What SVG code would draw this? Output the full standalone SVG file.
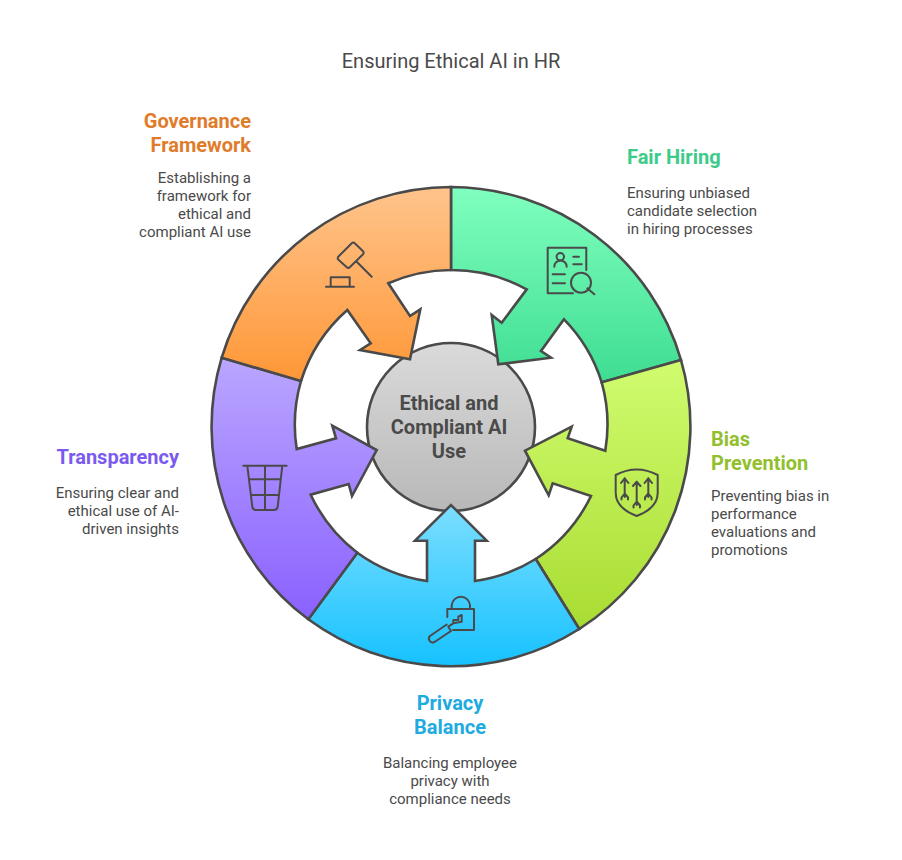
<svg xmlns="http://www.w3.org/2000/svg" width="902" height="860" viewBox="0 0 902 860">
<style>
text{font-family:Roboto,"Liberation Sans",sans-serif;fill:#4a4a4a}
.t{font-size:20px}
.h{font-size:20px;font-weight:700}
.b{font-size:15px}
.c{font-size:20px;font-weight:700}
.m{text-anchor:middle}.e{text-anchor:end}
.s{stroke:#4a4a4a;stroke-width:2.6;stroke-linejoin:miter}
.i{fill:none;stroke:#4a4a4a;stroke-width:2;stroke-linecap:round;stroke-linejoin:round}
</style>
<defs>
<linearGradient id="gO" x1="0" y1="0" x2="0" y2="1"><stop offset="0" stop-color="#ffc48c"/><stop offset="1" stop-color="#ff9736"/></linearGradient>
<linearGradient id="gG" x1="0" y1="0" x2="0" y2="1"><stop offset="0" stop-color="#80ffbf"/><stop offset="1" stop-color="#3edd91"/></linearGradient>
<linearGradient id="gL" x1="0" y1="0" x2="0" y2="1"><stop offset="0" stop-color="#d0fc6f"/><stop offset="1" stop-color="#a9dc32"/></linearGradient>
<linearGradient id="gB" x1="0" y1="0" x2="0" y2="1"><stop offset="0" stop-color="#7cdeff"/><stop offset="1" stop-color="#16c2ff"/></linearGradient>
<linearGradient id="gP" x1="0" y1="0" x2="0" y2="1"><stop offset="0" stop-color="#baa6ff"/><stop offset="1" stop-color="#8a61ff"/></linearGradient>
<linearGradient id="gH" x1="0" y1="0" x2="0" y2="1"><stop offset="0" stop-color="#dadada"/><stop offset="1" stop-color="#b8b8b8"/></linearGradient>
</defs>
<text class="t m" x="451" y="68">Ensuring Ethical AI in HR</text>
<g id="hub"><circle class="s" cx="451" cy="427" r="84" fill="url(#gH)"/>
<text class="c m" x="449" y="410">Ethical and</text><text class="c m" x="449" y="434">Compliant AI</text><text class="c m" x="449" y="458">Use</text></g>
<g id="connectors"></g>
<g id="fair-hiring">
<path class="s" fill="url(#gG)" d="M451 187A240 240 0 0 1 681 360L601.7 382.3A157 157 0 0 0 564 319.3L541 351L551 357.7L498.3 364.3L491.7 315L501.7 322.7L526.7 289.3A157 157 0 0 0 451 270Z"/>
<path class="i" d="M586.3 270V247.7H547.7V293.3H573M573.3 256.7H579M573.3 264.3H581.7M552.7 274.3H565M552.7 283.3H565M554.3 266.7A6.2 6.2 0 0 1 566.7 266.7M587.3 288.3L594.3 294.3"/>
<circle class="i" cx="560.3" cy="256.7" r="3.7"/><circle class="i" cx="581" cy="282.7" r="10"/>
<text class="h" style="fill:#3dcb8a" x="627" y="164">Fair Hiring</text>
<text class="b" x="627" y="198">Ensuring unbiased</text><text class="b" x="627" y="216">candidate selection</text><text class="b" x="627" y="234">in hiring processes</text>
</g>
<g id="bias-prevention">
<path class="s" fill="url(#gL)" d="M579.3 629L535.7 559A157 157 0 0 0 591 496L552.7 483.3L548.7 495.3L525 450.7L571.7 426.7L567.7 438.3L605.3 450.7A157 157 0 0 0 601.7 382.3L681 360A240 240 0 0 1 579.3 629Z"/>
<path class="i" d="M615.7 475Q636.7 464 657.7 475V493Q657.7 508 636.7 516Q615.7 508 615.7 493ZM624.7 478.3V497M621 483L624.7 478.3L628.4 483M621.5 499.5V497.5L624.7 493.5L628 497.5V499.5M636.7 481.7V505M633 486L636.7 481.7L640.4 486M633.5 507.5V505.5L636.7 501.5L640 505.5V507.5M648.3 478.3V497M644.6 483L648.3 478.3L652 483M645 499.5V497.5L648.3 493.5L651.5 497.5V499.5"/>
<text class="h" style="fill:#93bf2e" x="711" y="446">Bias</text><text class="h" style="fill:#93bf2e" x="711" y="470">Prevention</text>
<text class="b" x="711" y="501">Preventing bias in</text><text class="b" x="711" y="519">performance</text><text class="b" x="711" y="537">evaluations and</text><text class="b" x="711" y="555">promotions</text>
</g>
<g id="privacy-balance">
<path class="s" fill="url(#gB)" d="M308.3 619.3L357.3 552.7A157 157 0 0 0 427 581V540.7H415L451 505L486.7 540.7H475V581A157 157 0 0 0 535.7 559L579.3 629A240 240 0 0 1 308.3 619.3Z"/>
<path class="i" d="M447.3 617V609H474V630H453M451.7 609V605A9.2 9.2 0 0 1 470 605V609M448.3 626.7L453.3 623.3V620H458.3V616.7L461.7 615V621.7L453.3 623.3M446.7 624.5L430 636A3.8 3.8 0 0 0 434.5 642L451 631L448.3 626.7"/>
<text class="h m" style="fill:#1eabdf" x="450" y="710">Privacy</text><text class="h m" style="fill:#1eabdf" x="450" y="734">Balance</text>
<text class="b m" x="450" y="768">Balancing employee</text><text class="b m" x="450" y="786">privacy with</text><text class="b m" x="450" y="804">compliance needs</text>
</g>
<g id="transparency">
<path class="s" fill="url(#gP)" d="M221.7 357.7L301 381A157 157 0 0 0 296.7 449L336 438.3L332.3 425.7L376.7 450L352 496L348.7 484L310.7 494.7A157 157 0 0 0 357.3 552.7L308.3 619.3A240 240 0 0 1 221.7 357.7Z"/>
<path class="i" d="M243.3 465.7H286.7M247.3 465.7L252.3 506.7Q252.7 510 256 510H274Q277.3 510 277.7 506.7L282.3 465.7M265 465.7V510M249.3 479.3H280.3M251 495H278.7"/>
<text class="h e" style="fill:#7b5bee" x="179" y="464">Transparency</text>
<text class="b e" x="179" y="498">Ensuring clear and</text><text class="b e" x="179" y="516">ethical use of AI-</text><text class="b e" x="179" y="534">driven insights</text>
</g>
<g id="governance-framework">
<path class="s" fill="url(#gO)" d="M451 187V270A157 157 0 0 0 388.3 283.3L410 316L420.3 309.3L410 359.3L360 350L370.7 343.3L347.3 310A157 157 0 0 0 301 381L221.7 357.7A240 240 0 0 1 451 187Z"/>
<path class="i" d="M351.5 243.5Q353.3 241.7 355 243.5L362.8 251Q364.5 252.7 362.8 254.5L350 267Q348.3 268.7 346.5 267L338.5 259.8Q336.8 258.3 338.5 256.5ZM356.7 261.7L371.7 276.7M326 286.7H354M330.7 286.7V277.3H349.7V286.7"/>
<text class="h e" style="fill:#df7c2c" x="251" y="128">Governance</text><text class="h e" style="fill:#df7c2c" x="251" y="152">Framework</text>
<text class="b e" x="251" y="183">Establishing a</text><text class="b e" x="251" y="201">framework for</text><text class="b e" x="251" y="219">ethical and</text><text class="b e" x="251" y="237">compliant AI use</text>
</g>
</svg>
